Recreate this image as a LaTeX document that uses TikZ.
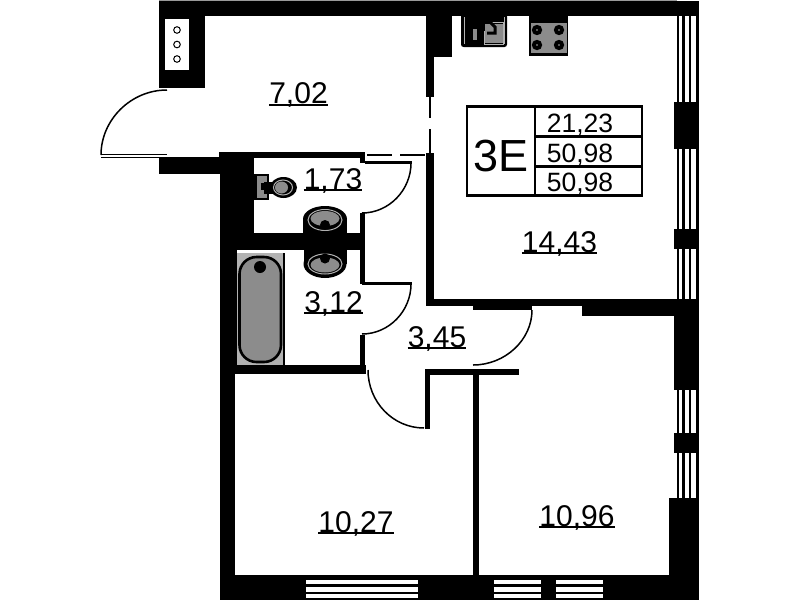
\documentclass[tikz,border=0pt]{standalone}
\usepackage{fontspec}
\setmainfont{Liberation Sans}
\tikzset{
  wall/.style={fill=black,draw=none},
  leaf/.style={draw=black,line width=1.9pt},
  swing/.style={draw=black,line width=1.5pt},
  winline/.style={draw=black,line width=2.4pt},
  glass/.style={fill=white,draw=none},
  area/.style={inner sep=0pt,font=\fontsize{30}{30}\selectfont,anchor=base},
  uline/.style={draw=black,line width=1.9pt},
  cell/.style={inner sep=0pt,font=\fontsize{26.5}{26.5}\selectfont,anchor=base},
  tablen/.style={draw=black,line width=2.4pt},
  fixt/.style={fill=fixgray,draw=none},
  ring/.style={draw=fixlight,line width=1pt},
}
\definecolor{fixgray}{gray}{0.55}
\definecolor{fixlight}{gray}{0.7}
\definecolor{topgray}{gray}{0.6}
\begin{document}
\begin{tikzpicture}[x=1pt,y=-1pt]
\useasboundingbox (0,0) rectangle (799,600);
\fill[white] (0,0) rectangle (799,600);
% ---- right facade windows
\foreach \a/\b in {16/102,149/229,249/299,390/433,453/498}{
  \foreach \x in {678,683.5,690,697.6}{
    \draw[winline] (\x,\a) -- (\x,\b);
  }
}
% ---- walls
\fill[wall] (159,1) rectangle (699,16);
\fill[topgray] (159,0) rectangle (677,1);
\fill[wall] (159,1) rectangle (205,88);
\fill[glass] (165,19) rectangle (189,70);
\foreach \y in {30,44.5,59}{\draw[black,line width=1pt,fill=white] (177,\y) circle (3.3);}
% entry wall stub
\fill[wall] (159,158) rectangle (220,174);
\fill[wall] (167,156.5) rectangle (220,158);
\fill[wall] (219,152) rectangle (365,158);
\fill[wall] (220,152) rectangle (254,250);
\fill[wall] (220,233) rectangle (365,250);
\fill[wall] (220,250) rectangle (237,374);
\fill[wall] (220,365) rectangle (366,374);
\fill[wall] (220,374) rectangle (235,600);
% wet-room partition
\fill[wall] (360,152) rectangle (365,163);
\fill[wall] (360,213) rectangle (365,284);
\fill[wall] (360,335) rectangle (365,374);
% kitchen / hall wall
\fill[wall] (426,16) rectangle (452,57);
\fill[wall] (426,57) rectangle (434,97);
\fill[wall] (426,153) rectangle (434,306);
\fill[wall] (426,299) rectangle (675,306);
\fill[wall] (473,306) rectangle (532,310);
\fill[wall] (582,306) rectangle (675,316);
% right piers
\fill[wall] (674,102) rectangle (699,149);
\fill[wall] (674,229) rectangle (699,249);
\fill[wall] (674,299) rectangle (699,390);
\fill[wall] (674,433) rectangle (699,453);
\fill[wall] (669,498) rectangle (699,600);
% bedrooms
\fill[wall] (425,369) rectangle (519,374.5);
\fill[wall] (425,369) rectangle (429.5,429);
\fill[wall] (472.5,374) rectangle (479,575);
% bottom facade
\fill[wall] (220,575) rectangle (699,600);
\foreach \a/\b in {306/418,494/541,556/603}{
  \fill[glass] (\a,579.5) rectangle (\b,584);
  \fill[glass] (\a,587) rectangle (\b,591.5);
  \fill[glass] (\a,594) rectangle (\b,597.5);
}
% ---- thin partitions (dashed)
\draw[leaf] (367,155) -- (392,155);
\draw[leaf] (400,155) -- (425,155);
\draw[leaf] (430,97) -- (430,118);
\draw[leaf] (430,129) -- (430,153);
% ---- doors
\draw[black,line width=1pt] (101,154) -- (167,154);
\draw[black,line width=1pt] (101,157) -- (167,157);
\draw[swing] (167,90) .. controls (130.7,90) and (101,120) .. (101,155);
\draw[black,line width=2.2pt] (365,162.5) -- (412,162.5);
\draw[swing] (411,163) .. controls (411,190) and (389,213) .. (362,213);
\draw[black,line width=2.2pt] (362,283.5) -- (412,283.5);
\draw[swing] (411,284) .. controls (411,311) and (389,334) .. (362,334);
\draw[swing] (532,310) .. controls (532,340) and (505,365) .. (473,365);
\draw[swing] (368,370) .. controls (368,402) and (393,428) .. (424,428);
% ---- kitchen sink
\fill[black,rounded corners=2.5pt] (461,14) rectangle (507,47);
\fill[fixlight] (463.5,17) rectangle (464.3,44);
\fill[fixlight] (504,17) rectangle (505,44);
\fill[fixgray] (485,24) rectangle (503,43);
\draw[fixlight,line width=1pt] (484,31) -- (484,44) -- (503.5,44) -- (503.5,22) -- (490,22);
\draw[black,line width=3pt] (487,19) -- (495,27) -- (495,33) -- (487,33);
\fill[fixgray] (473,29) rectangle (477,40);
% ---- stove
\fill[black] (528.5,16) rectangle (568,56);
\fill[fixgray] (531,23) rectangle (567,53);
\foreach \x/\y in {537/30,559/30,537/45,559/45}{
  \fill[black] (\x,\y) circle (5.2);
  \fill[fixlight] (\x,\y) circle (0.8);
}
% ---- toilet
\fill[black] (254,173.5) rectangle (269,200);
\fill[fixgray] (257,175.5) rectangle (267,198);
\fill[black] (261,183) rectangle (263.5,190);
\fill[black] (264,182) rectangle (275,194);
\fill[black] (283.5,187.5) ellipse [x radius=13.5,y radius=10.5];
\draw[ring] (283,187.5) ellipse [x radius=9.5,y radius=7.5];
\fill[fixgray] (281.5,187.5) ellipse [x radius=6.5,y radius=6];
% ---- basins
\fill[black] (325,219) ellipse [x radius=22,y radius=13];
\fill[black] (303,219) rectangle (347,245);
\draw[ring] (325,220) ellipse [x radius=17,y radius=10.5];
\fill[fixgray] (325,218.5) ellipse [x radius=14.5,y radius=7.5];
\fill[black] (325,225) circle (5);
\fill[black] (325,264) ellipse [x radius=21.5,y radius=14];
\fill[black] (303.5,240) rectangle (346.5,264);
\draw[ring] (325,264) ellipse [x radius=17,y radius=10];
\fill[fixgray] (325,265) ellipse [x radius=14.5,y radius=7.5];
\fill[black] (325,258.5) circle (5);
% ---- bath
\fill[black] (283,253) rectangle (285,365);
\fill[fixlight] (237,253) rectangle (283,365);
\draw[black,line width=2.6pt,fill=fixgray,rounded corners=17pt] (239.5,257) rectangle (281,362);
\fill[black] (260,267) circle (6);
% ---- area labels
\node[area] (hall) at (298.5,103.5) {7,02};
\node[area] (wc) at (333,189) {1,73};
\node[area] (bath) at (333.5,312) {3,12};
\node[area] (corr) at (437,347) {3,45};
\node[area] (living) at (559.5,252) {14,43};
\node[area] (roomA) at (356,532) {10,27};
\node[area] (roomB) at (577,526) {10,96};
\foreach \n in {hall,wc,bath,corr,living,roomA,roomB}{
  \draw[uline] ([yshift=-1.2pt]\n.base west) -- ([yshift=-1.2pt]\n.base east);
}
% ---- summary table
\node[inner sep=0pt,font=\fontsize{45}{45}\selectfont,anchor=base] (kind) at (501,171) {3E};
\node[cell] (t1) at (580,132) {21,23};
\node[cell] (t2) at (580,162) {50,98};
\node[cell] (t3) at (580,191.5) {50,98};
\draw[tablen] (467,106.5) rectangle (642,195.5);
\draw[tablen] (535,106.5) -- (535,195.5);
\draw[tablen] (535,136.5) -- (642,136.5);
\draw[tablen] (535,166.5) -- (642,166.5);
\end{tikzpicture}
\end{document}
